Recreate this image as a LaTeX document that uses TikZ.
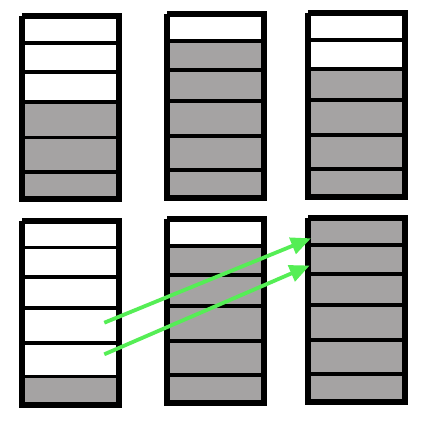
\documentclass[tikz,border=0pt]{standalone}
\usetikzlibrary{arrows.meta}
\definecolor{cellgray}{HTML}{A5A3A3}
\definecolor{arrowgreen}{HTML}{55EE55}
\tikzset{
  divider/.style={line width=3.8pt, black},
  frame/.style={line width=5.7pt, black, line cap=butt, line join=miter},
  movearrow/.style={line width=3.8pt, arrowgreen, -{Triangle[length=20pt,width=17pt]}},
}
\newcommand{\stackbox}[6]{%
  \foreach \y [count=\i, remember=\y as \yp (initially #3)] in {#5,#4} {
    \ifnum\i<#6\relax\else
      \fill[cellgray] (#1,\yp) rectangle (#2,\y);
    \fi
  }
  \foreach \y in {#5} \draw[divider] (#1,\y) -- (#2,\y);
  \draw[frame] (#1,#3) -- (#2,#3) -- (#2,#4) -- (#1,#4) -- (#1,#3);
}
\begin{document}
\begin{tikzpicture}[x=1pt,y=-1pt]
\useasboundingbox (0,0) rectangle (424,421);
\fill[white] (0,0) rectangle (424,421);
% top row
\stackbox{21.9}{118.8}{16.2}{199.2}{42.7,71.7,102,137.5,171.7}{4}
\stackbox{167.2}{264.2}{13.9}{198.2}{40.8,70,100.8,136,170.2}{2}
\stackbox{308.2}{405.2}{12.9}{197.2}{39.7,68.7,100,134.7,169.2}{3}
% bottom row
\stackbox{21.9}{118.8}{221.2}{404.8}{247.5,276.8,307.8,342.8,376.5}{6}
\stackbox{167.2}{264.2}{218.9}{403.2}{245.8,274.7,305.8,340.8,374.7}{2}
\stackbox{308.2}{405.2}{217.9}{402.2}{244.7,273.7,304.7,339.7,374.2}{1}
% arrows
\coordinate (a1s) at (104.3,322.7);
\coordinate (a1e) at (311,238.3);
\coordinate (a2s) at (104.3,354.3);
\coordinate (a2e) at (309.7,265.5);
\draw[movearrow] (a1s) -- (a1e);
\draw[movearrow] (a2s) -- (a2e);
\end{tikzpicture}
\end{document}
